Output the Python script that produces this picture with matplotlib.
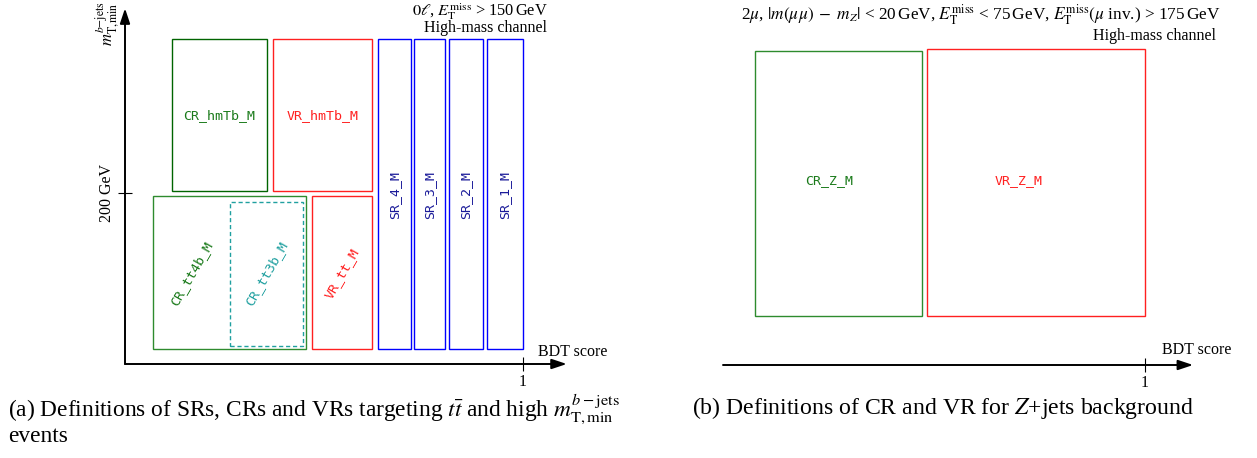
import matplotlib
matplotlib.use('Agg')
import matplotlib.pyplot as plt

plt.rcParams['font.family'] = 'serif'
plt.rcParams['font.serif'] = ['Liberation Serif', 'DejaVu Serif']
plt.rcParams['mathtext.fontset'] = 'stix'

W, H = 1257, 458

# ttbar / high-mT regions: BDT score range and mT^{b-jets}_{T,min} range [GeV]
tt_names = ['CR_hmTb_M', 'VR_hmTb_M', 'SR_4_M', 'SR_3_M', 'SR_2_M', 'SR_1_M',
            'CR_tt4b_M', 'VR_tt_M']
tt_x0 = [0.118, 0.372, 0.636, 0.726, 0.814, 0.910, 0.070, 0.470]
tt_x1 = [0.357, 0.621, 0.719, 0.804, 0.899, 1.000, 0.455, 0.621]
tt_y0 = [202, 202, 17, 17, 17, 17, 17, 17]
tt_y1 = [380, 380, 380, 380, 380, 380, 196, 196]
tt_edge = ['#006400', '#ff2020', '#0000ff', '#0000ff', '#0000ff', '#0000ff',
           '#2e8b2e', '#ff2020']
tt_text = ['#1a7a1a', '#ff2020', '#1a1a99', '#1a1a99', '#1a1a99', '#1a1a99',
           '#1a7a1a', '#ff2020']
tt_rot = [0, 0, 90, 90, 90, 90, 60, 60]
# label position inside each box (BDT, GeV)
tt_lx = [0.237, 0.496, 0.677, 0.765, 0.856, 0.955, 0.167, 0.545]
tt_ly = [291, 291, 198, 198, 198, 198, 106, 106]

# 3b sub-region drawn dashed inside CR_tt4b
sub_name = 'CR_tt3b_M'
sub_x = [0.264, 0.447]
sub_y = [21, 189]

# Z+jets regions (BDT score, arbitrary vertical extent)
z_names = ['CR_Z_M', 'VR_Z_M']
z_x0 = [0.076, 0.483]
z_x1 = [0.472, 1.000]
z_y0 = [57, 57]
z_y1 = [367, 370]
z_edge = ['#2e8b2e', '#ff2020']
z_text = ['#1a7a1a', '#ff2020']
z_lx = [0.251, 0.700]
z_ly = [216, 216]

mono = 'DejaVu Sans Mono'


def px(x, y):
    return x / W, 1 - y / H


fig = plt.figure(figsize=(W / 100, H / 100), dpi=100)

# ---- left panel ----
ax1 = fig.add_axes([125 / W, (H - 364) / H, (620 - 125) / W, 364 / H])
ax1.set_xlim(0, (620 - 125) / 398)
ax1.set_ylim(0, 364 / 0.855)
for s in ax1.spines.values():
    s.set_visible(False)

for i in range(len(tt_names)):
    ax1.bar(tt_x0[i], tt_y1[i] - tt_y0[i], width=tt_x1[i] - tt_x0[i],
            bottom=tt_y0[i], align='edge', fill=False,
            edgecolor=tt_edge[i], linewidth=1.0)
    ax1.text(tt_lx[i], tt_ly[i], tt_names[i], color=tt_text[i],
             rotation=tt_rot[i], ha='center', va='center',
             family=mono, fontsize=9.5)

ax1.bar(sub_x[0], sub_y[1] - sub_y[0], width=sub_x[1] - sub_x[0],
        bottom=sub_y[0], align='edge', fill=False, edgecolor='#20a0a0',
        linewidth=1.0, linestyle=(0, (3, 2)))
ax1.text((sub_x[0] + sub_x[1]) / 2, 106, sub_name, color='#20a0a0',
         rotation=60, ha='center', va='center', family=mono, fontsize=9.5)

arrow = dict(arrowstyle='-|>,head_length=0.9,head_width=0.3', color='black',
             lw=1.4, shrinkA=0, shrinkB=0)
ax1.annotate('', xy=(1.11, 0), xytext=(0, 0), arrowprops=arrow,
             annotation_clip=False)
ax1.annotate('', xy=(0, 416), xytext=(0, 0), arrowprops=arrow,
             annotation_clip=False)

ax1.set_xticks([1])
ax1.set_xticklabels(['1'])
ax1.set_yticks([200])
ax1.set_yticklabels(['200 GeV'], rotation=90, va='center')
ax1.tick_params(direction='inout', length=10, width=0.8, labelsize=11.5, pad=2)

ax1.text(1.038, 5, 'BDT score', fontsize=11.5, va='bottom', ha='left')

# ---- right panel ----
ax2 = fig.add_axes([723 / W, (H - 365) / H, (W - 723) / W, 365 / H])
ax2.set_xlim(0, (W - 723) / 422)
ax2.set_ylim(0, 365 / 0.855)
for s in ax2.spines.values():
    s.set_visible(False)

for i in range(len(z_names)):
    ax2.bar(z_x0[i], z_y1[i] - z_y0[i], width=z_x1[i] - z_x0[i],
            bottom=z_y0[i], align='edge', fill=False,
            edgecolor=z_edge[i], linewidth=1.0)
    ax2.text(z_lx[i], z_ly[i], z_names[i], color=z_text[i],
             ha='center', va='center', family=mono, fontsize=9.5)

ax2.annotate('', xy=(1.114, 0), xytext=(0, 0), arrowprops=arrow,
             annotation_clip=False)
ax2.set_xticks([1])
ax2.set_xticklabels(['1'])
ax2.set_yticks([])
ax2.tick_params(direction='inout', length=10, width=0.8, labelsize=11.5, pad=2)
ax2.text(1.040, 8, 'BDT score', fontsize=11.5, va='bottom', ha='left')

# ---- headers, axis title, captions ----
fig.text(*px(107, 1), r'$m_{\mathrm{T,min}}^{b\mathrm{-jets}}$', rotation=90,
         ha='center', va='top', fontsize=12)
fig.text(*px(548, 12), r'$0\ell$, $E_{\mathrm{T}}^{\mathrm{miss}}$ > 150$\,$GeV',
         ha='right', va='center', fontsize=11.8)
fig.text(*px(547, 28), 'High-mass channel', ha='right', va='center', fontsize=11.5)

fig.text(*px(981, 15),
         r'2$\mu$, $|m(\mu\mu)\;-\;m_Z|$ < 20$\,$GeV, '
         r'$E_{\mathrm{T}}^{\mathrm{miss}}$ < 75$\,$GeV, '
         r'$E_{\mathrm{T}}^{\mathrm{miss}}(\mu$ inv.) > 175$\,$GeV',
         ha='center', va='center', fontsize=12.4)
fig.text(*px(1216, 36), 'High-mass channel', ha='right', va='center', fontsize=11.5)

fig.text(*px(8, 410),
         r'(a) Definitions of SRs, CRs and VRs targeting $t\bar{t}$ and high '
         r'$m_{\mathrm{T,min}}^{b-\mathrm{jets}}$',
         ha='left', va='center', fontsize=16.8)
fig.text(*px(8, 437), 'events', ha='left', va='center', fontsize=16.8)
fig.text(*px(692, 408), r'(b) Definitions of CR and VR for $Z$+jets background',
         ha='left', va='center', fontsize=17.1)

fig.savefig('out.png', dpi=100)
